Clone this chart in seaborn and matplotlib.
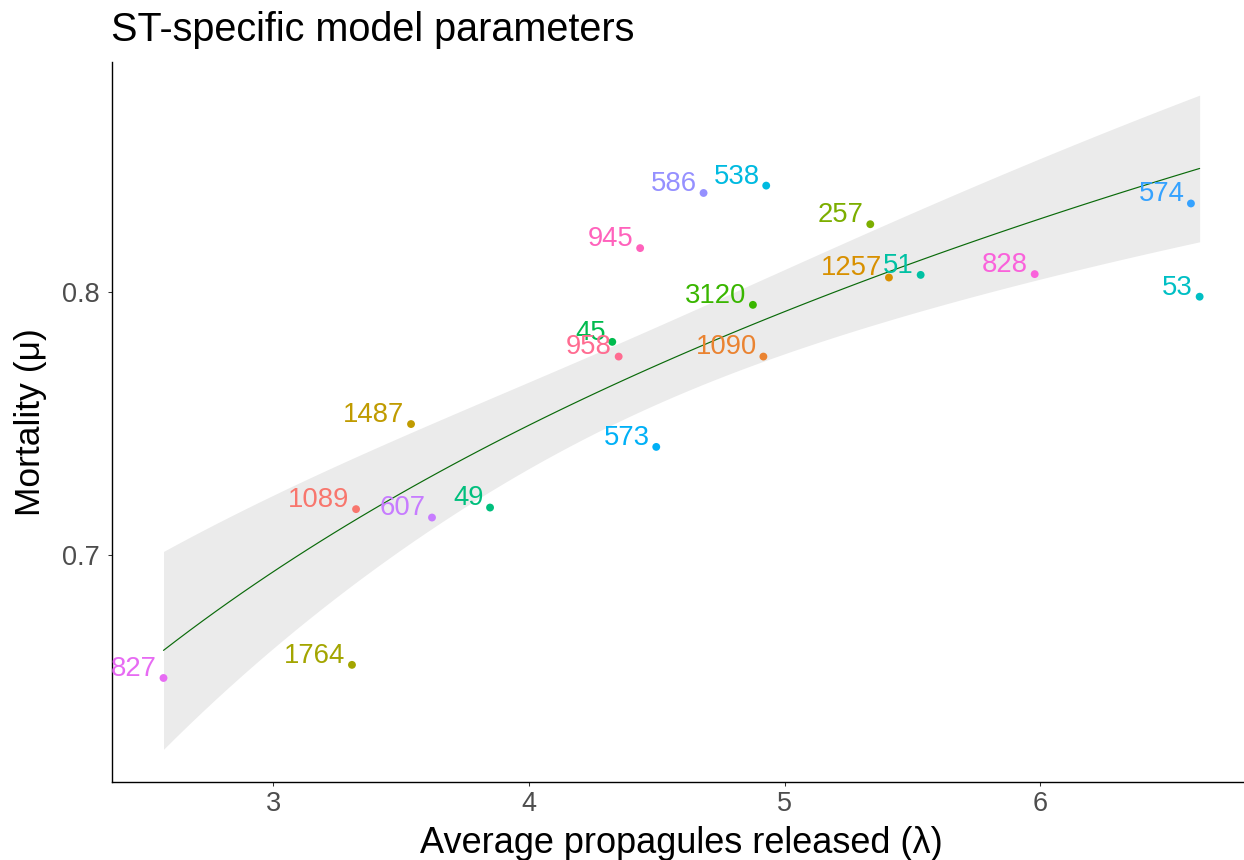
import math
import numpy as np
import pandas as pd
import matplotlib
matplotlib.use("Agg")
import matplotlib.pyplot as plt
import seaborn as sns

# ---------------- data ----------------
st_labels = ["1089", "1090", "1257", "1487", "1764", "257", "3120", "45", "49", "51",
             "53", "538", "573", "574", "586", "607", "827", "828", "945", "958"]
lam = [3.324, 4.917, 5.408, 3.539, 3.308, 5.335, 4.876, 4.326, 3.848, 5.532,
       6.623, 4.928, 4.498, 6.589, 4.683, 3.621, 2.571, 5.978, 4.435, 4.351]
mu = [0.7175, 0.7756, 0.8057, 0.7499, 0.6582, 0.8260, 0.7953, 0.7812, 0.7181, 0.8067,
      0.7984, 0.8407, 0.7412, 0.8339, 0.8379, 0.7143, 0.6532, 0.8070, 0.8169, 0.7756]
st_colors = ["#F8766D", "#EA8331", "#D89000", "#C09B00", "#A3A500", "#7CAE00", "#39B600",
             "#00BB4E", "#00BF7D", "#00C1A3", "#00BFC4", "#00BAE0", "#00B0F6", "#35A2FF",
             "#9590FF", "#C77CFF", "#E76BF3", "#FA62DB", "#FF62BC", "#FF6C91"]
x_ticks = [3, 4, 5, 6]
y_ticks = [0.7, 0.8]
title = "ST-specific model parameters"
x_label = "Average propagules released (\u03bb)"
y_label = "Mortality (\u03bc)"

df = pd.DataFrame({"ST": st_labels, "lam": lam, "mu": mu})
palette = dict(zip(st_labels, st_colors))


# ---------------- linear fit mu ~ log(lam) with 95% CI ----------------
def t975(nu):
    ts = np.linspace(0, 10, 200001)
    logc = math.lgamma((nu + 1) / 2) - math.lgamma(nu / 2) - 0.5 * math.log(nu * math.pi)
    pdf = np.exp(logc) * (1 + ts ** 2 / nu) ** (-(nu + 1) / 2)
    cdf = np.concatenate([[0], np.cumsum((pdf[1:] + pdf[:-1]) / 2 * np.diff(ts))])
    return float(np.interp(0.475, cdf, ts))


xv = df["lam"].to_numpy()
yv = df["mu"].to_numpy()
X = np.column_stack([np.ones(len(xv)), np.log(xv)])
beta, *_ = np.linalg.lstsq(X, yv, rcond=None)
res = yv - X @ beta
dof = len(xv) - 2
sigma2 = np.sum(res ** 2) / dof
XtX_inv = np.linalg.inv(X.T @ X)
grid = np.linspace(xv.min(), xv.max(), 80)
G = np.column_stack([np.ones(len(grid)), np.log(grid)])
fit = G @ beta
se = np.sqrt(sigma2 * np.einsum("ij,jk,ik->i", G, XtX_inv, G))
tq = t975(dof)
lo = fit - tq * se
hi = fit + tq * se
smooth = pd.DataFrame({"lam": grid, "mu": fit})

# ---------------- figure ----------------
sns.set_style("ticks")
plt.rcParams["font.family"] = ["Liberation Sans", "DejaVu Sans"]

W, H = 1244, 860
fig = plt.figure(figsize=(W / 100, H / 100), dpi=100)

xr = xv.max() - xv.min()
xlim = (xv.min() - 0.05 * xr, xv.max() + 0.05 * xr)
ymin = min(lo.min(), yv.min())
ymax = max(hi.max(), yv.max())
yr = ymax - ymin
ylim = (ymin - 0.05 * yr, ymax + 0.05 * yr)

left_px, bottom_px, top_px = 111.7, 782.0, 62.4
px_per_x = 255.5
right_px = 274 + (xlim[1] - 3) * px_per_x
ax = fig.add_axes([left_px / W, 1 - bottom_px / H, (right_px - left_px) / W,
                   (bottom_px - top_px) / H])

ax.fill_between(grid, lo, hi, color="#EBEBEB", linewidth=0, zorder=1)
sns.lineplot(data=smooth, x="lam", y="mu", color="#0A6A0A", linewidth=0.85, ax=ax, zorder=2)
sns.scatterplot(data=df, x="lam", y="mu", hue="ST", palette=palette, s=32, linewidth=0,
                legend=False, ax=ax, zorder=3)
for s, xx, yy in zip(df["ST"], df["lam"], df["mu"]):
    ax.annotate(s, (xx, yy), xytext=(-4.8, 1.5), textcoords="offset points",
                ha="right", va="baseline", fontsize=19.8, color=palette[s], zorder=4)

ax.set_xlim(*xlim)
ax.set_ylim(*ylim)
ax.set_xticks(x_ticks)
ax.set_yticks(y_ticks)
ax.set_xticklabels([str(t) for t in x_ticks])
ax.set_yticklabels([f"{t:.1f}" for t in y_ticks])
sns.despine(ax=ax)
for side in ["left", "bottom"]:
    ax.spines[side].set_color("black")
    ax.spines[side].set_linewidth(1.0)
ax.tick_params(axis="both", length=2.9, width=0.75, color="#333333",
               labelsize=19.5, labelcolor="#4D4D4D")
ax.tick_params(axis="x", pad=3.5)
ax.tick_params(axis="y", pad=5.5)

ax.set_xlabel(x_label, fontsize=26, color="black")
ax.set_ylabel(y_label, fontsize=25.5, color="black")
ax.xaxis.label.set_va("baseline")
ax.yaxis.label.set_va("baseline")
ax.xaxis.set_label_coords(0.5, -(852.7 - bottom_px) / (bottom_px - top_px))
ax.yaxis.set_label_coords((40 - left_px) / (right_px - left_px), 0.5)

fig.text(111 / W, 1 - 41 / H, title, fontsize=28.5, color="black", ha="left", va="baseline")

fig.savefig("out.png", dpi=100)
